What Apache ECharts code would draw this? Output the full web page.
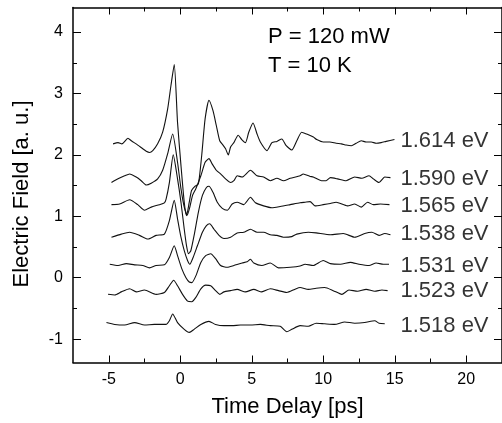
<!DOCTYPE html>
<html>
<head>
<meta charset="utf-8">
<script src="https://cdn.jsdelivr.net/npm/echarts@6/dist/echarts.min.js"></script>
<style>
html,body{margin:0;padding:0;background:#fff;}
#chart{width:502px;height:423px;}
</style>
</head>
<body>
<div id="chart"></div>
<script>
// Tick labels
const xTicks = [-5, 0, 5, 10, 15, 20];
const xMinorTicks = [-2.5, 2.5, 7.5, 12.5, 17.5];
const yTicks = [-1, 0, 1, 2, 3, 4];
const yMinorTicks = [-0.5, 0.5, 1.5, 2.5, 3.5];

// Trace names (photon energy)
const traceNames = ['1.614 eV', '1.590 eV', '1.565 eV', '1.538 eV', '1.531 eV', '1.523 eV', '1.518 eV'];
// Level where each label sits
const labelLevels = [2.23, 1.61, 1.17, 0.72, 0.20, -0.21, -0.78];

// Traces: [time delay (ps), electric field (a.u.)]
const e1614 = [[-4.70,2.18],[-4.35,2.20],[-4.08,2.18],[-3.66,2.27],[-3.42,2.23],[-2.97,2.16],[-2.62,2.10],[-2.38,2.06],[-2.15,2.04],[-1.92,2.07],[-1.58,2.18],[-1.23,2.37],[-0.88,2.75],[-0.65,3.13],[-0.42,3.47],[-0.19,2.53],[0.05,1.83],[0.28,1.23],[0.44,1.01],[0.63,1.23],[0.79,1.42],[1.04,1.49],[1.27,1.53],[1.50,1.99],[1.74,2.59],[2.01,2.89],[2.29,2.72],[2.52,2.48],[2.76,2.23],[2.99,2.16],[3.17,2.10],[3.36,2.00],[3.52,2.13],[3.75,2.20],[4.05,2.32],[4.30,2.25],[4.56,2.20],[4.79,2.37],[5.09,2.52],[5.37,2.34],[5.60,2.21],[6.06,2.07],[6.41,2.20],[6.76,2.22],[7.10,2.26],[7.41,2.15],[7.80,2.08],[8.15,2.23],[8.49,2.37],[8.84,2.34],[9.31,2.29],[9.54,2.25],[10.0,2.21],[10.46,2.21],[10.9,2.19],[11.27,2.18],[11.6,2.16],[11.97,2.15],[12.3,2.19],[12.66,2.23],[13.0,2.21],[13.36,2.21],[13.7,2.19],[14.05,2.20],[14.4,2.22],[14.98,2.25]];
const e1590 = [[-4.81,1.55],[-4.35,1.61],[-3.89,1.66],[-3.54,1.69],[-3.08,1.64],[-2.73,1.58],[-2.38,1.51],[-2.03,1.54],[-1.58,1.61],[-1.23,1.75],[-0.88,2.02],[-0.53,2.34],[-0.19,1.88],[0.05,1.45],[0.28,1.15],[0.49,1.02],[0.67,1.15],[0.86,1.34],[1.09,1.45],[1.44,1.66],[1.74,1.88],[2.01,1.94],[2.24,1.85],[2.52,1.75],[2.82,1.69],[3.17,1.61],[3.52,1.55],[3.75,1.58],[3.98,1.66],[4.33,1.64],[4.91,1.75],[5.37,1.66],[5.83,1.64],[6.30,1.58],[6.76,1.62],[7.22,1.58],[7.69,1.62],[8.38,1.66],[8.60,1.69],[9.08,1.65],[9.30,1.64],[9.88,1.58],[10.2,1.58],[10.5,1.63],[11.0,1.61],[11.6,1.58],[12.2,1.64],[12.7,1.62],[13.2,1.66],[13.5,1.61],[13.9,1.55],[14.3,1.64],[14.7,1.63]];
const e1565 = [[-4.81,1.19],[-4.24,1.20],[-3.54,1.27],[-2.97,1.19],[-2.50,1.10],[-2.03,1.15],[-1.46,1.19],[-1.11,1.22],[-0.99,1.28],[-0.76,1.55],[-0.49,2.00],[-0.19,1.61],[0.05,1.23],[0.28,0.79],[0.44,0.52],[0.58,0.39],[0.74,0.44],[0.97,0.69],[1.27,1.07],[1.55,1.34],[1.83,1.47],[2.01,1.49],[2.29,1.39],[2.59,1.23],[2.94,1.13],[3.29,1.10],[3.63,1.20],[3.98,1.23],[4.44,1.19],[4.91,1.31],[5.26,1.22],[5.83,1.17],[6.41,1.14],[6.99,1.16],[7.69,1.19],[8.38,1.22],[8.73,1.23],[9.08,1.24],[9.42,1.17],[10.0,1.19],[10.5,1.21],[10.9,1.23],[11.7,1.17],[12.2,1.20],[12.66,1.15],[13.1,1.23],[13.5,1.19],[14.0,1.20],[14.63,1.19]];
const e1538 = [[-4.81,0.66],[-4.12,0.71],[-3.54,0.74],[-2.85,0.69],[-2.27,0.63],[-1.69,0.69],[-1.11,0.71],[-0.76,0.93],[-0.42,1.26],[-0.19,0.96],[0.05,0.66],[0.28,0.44],[0.51,0.28],[0.67,0.22],[0.90,0.33],[1.20,0.52],[1.55,0.74],[1.83,0.85],[2.06,0.88],[2.36,0.79],[2.71,0.69],[3.06,0.64],[3.52,0.66],[3.98,0.73],[4.44,0.74],[4.91,0.79],[5.37,0.74],[5.83,0.74],[6.30,0.70],[6.76,0.69],[7.22,0.66],[7.80,0.67],[8.15,0.71],[8.96,0.74],[9.5,0.73],[10.5,0.70],[11.4,0.72],[12.2,0.66],[12.9,0.72],[13.4,0.74],[13.9,0.69],[14.3,0.72],[14.7,0.70]];
const e1531 = [[-4.93,0.22],[-4.35,0.20],[-3.77,0.23],[-3.19,0.21],[-2.62,0.20],[-2.15,0.16],[-1.69,0.20],[-1.11,0.21],[-0.76,0.33],[-0.42,0.52],[-0.19,0.36],[0.12,0.14],[0.40,0.00],[0.63,-0.07],[0.81,-0.08],[1.09,0.03],[1.44,0.25],[1.78,0.36],[2.13,0.39],[2.47,0.31],[2.82,0.20],[3.29,0.17],[3.75,0.20],[4.33,0.24],[4.68,0.26],[4.91,0.30],[5.14,0.24],[5.7,0.20],[6.3,0.24],[6.87,0.16],[7.69,0.17],[8.38,0.19],[8.73,0.22],[9.3,0.20],[10.0,0.28],[10.5,0.23],[11.2,0.22],[11.9,0.25],[12.5,0.22],[13.2,0.20],[13.7,0.24],[14.2,0.22],[14.6,0.22]];
const e1523 = [[-5.05,-0.27],[-4.58,-0.28],[-4.12,-0.23],[-3.54,-0.18],[-3.08,-0.23],[-2.5,-0.20],[-1.69,-0.27],[-1.11,-0.24],[-0.76,-0.13],[-0.46,-0.04],[-0.19,-0.13],[0.16,-0.27],[0.51,-0.38],[0.81,-0.39],[1.09,-0.32],[1.44,-0.18],[1.78,-0.12],[2.13,-0.13],[2.47,-0.21],[2.76,-0.27],[3.06,-0.23],[3.52,-0.21],[3.98,-0.19],[4.56,-0.23],[5.14,-0.19],[5.7,-0.23],[6.3,-0.18],[6.87,-0.21],[7.45,-0.24],[8.0,-0.19],[8.38,-0.16],[8.96,-0.19],[9.5,-0.17],[10.1,-0.16],[10.7,-0.21],[11.3,-0.27],[11.8,-0.20],[12.4,-0.22],[13.0,-0.19],[13.6,-0.22],[14.1,-0.20],[14.5,-0.21]];
const e1518 = [[-5.16,-0.73],[-4.58,-0.76],[-3.89,-0.77],[-3.19,-0.73],[-2.5,-0.77],[-1.81,-0.76],[-1.0,-0.76],[-0.76,-0.70],[-0.53,-0.59],[-0.19,-0.73],[0.28,-0.84],[0.63,-0.89],[0.97,-0.84],[1.44,-0.76],[2.01,-0.71],[2.47,-0.76],[3.06,-0.78],[3.63,-0.78],[4.21,-0.77],[4.91,-0.77],[5.6,-0.76],[6.3,-0.78],[6.99,-0.79],[7.45,-0.88],[7.8,-0.84],[8.38,-0.78],[8.96,-0.79],[9.5,-0.74],[10.1,-0.75],[10.8,-0.76],[11.5,-0.72],[12.2,-0.74],[12.9,-0.73],[13.6,-0.70],[13.9,-0.74],[14.3,-0.75]];

const traces = [e1614, e1590, e1565, e1538, e1531, e1523, e1518];

const FONT = '"Liberation Sans", Arial, Helvetica, sans-serif';
const INK = '#000';
const chart = echarts.init(document.getElementById('chart'), null, {renderer: 'canvas'});

const frameLine = {show: true, onZero: false, lineStyle: {color: INK, width: 1.5}};
const noLine = {show: false, onZero: false};
function xAx(pos, ticks, len, withLabel, showLine) {
  return {
    type: 'value', position: pos, min: -7.5, max: 22.5, gridIndex: 0,
    axisLine: showLine ? frameLine : noLine,
    axisTick: {show: true, inside: true, length: len, customValues: ticks, lineStyle: {color: INK, width: 1}},
    axisLabel: withLabel ? {show: true, customValues: ticks, fontSize: 16, color: INK, fontFamily: FONT, margin: 9} : {show: false},
    splitLine: {show: false},
    name: withLabel ? 'Time Delay [ps]' : '',
    nameLocation: 'middle', nameGap: 33,
    nameTextStyle: {fontSize: 22, color: INK, fontFamily: FONT}
  };
}
function yAx(pos, ticks, len, withLabel, showLine) {
  return {
    type: 'value', position: pos, min: -1.38, max: 4.4, gridIndex: 0,
    axisLine: showLine ? frameLine : noLine,
    axisTick: {show: true, inside: true, length: len, customValues: ticks, lineStyle: {color: INK, width: 1}},
    axisLabel: withLabel ? {show: true, customValues: ticks, fontSize: 16, color: INK, fontFamily: FONT, margin: 10} : {show: false},
    splitLine: {show: false}
  };
}

const series = traces.map((d, i) => ({
  name: traceNames[i], type: 'line', data: d, xAxisIndex: 0, yAxisIndex: 0,
  showSymbol: false, smooth: 0.2, lineStyle: {color: '#111', width: 1.1}, silent: true
}));
series.push({
  name: 'labels', type: 'scatter', xAxisIndex: 0, yAxisIndex: 0, symbolSize: 0,
  data: traceNames.map((n, i) => ({name: n, value: [15.4, labelLevels[i]]})),
  label: {show: true, position: 'right', distance: 0, formatter: p => p.name, fontSize: 22, color: INK, fontFamily: FONT, align: 'left', verticalAlign: 'middle'},
  silent: true
});

chart.setOption({
  animation: false,
  backgroundColor: '#fff',
  grid: {left: 73, top: 7.5, width: 435, height: 355, containLabel: false},
  xAxis: [
    xAx('bottom', xTicks, 7, true, true),
    xAx('bottom', xMinorTicks, 4, false, false),
    xAx('top', xTicks, 7, false, true),
    xAx('top', xMinorTicks, 4, false, false)
  ],
  yAxis: [
    yAx('left', yTicks, 8, true, true),
    yAx('left', yMinorTicks, 4, false, false),
    yAx('right', yTicks, 8, false, true),
    yAx('right', yMinorTicks, 4, false, false)
  ],
  graphic: [
    {type: 'text', left: 268, top: 26, style: {text: 'P = 120 mW', font: '22px ' + FONT, fill: INK}},
    {type: 'text', left: 268, top: 55, style: {text: 'T = 10 K', font: '22px ' + FONT, fill: INK}},
    {type: 'text', x: 22, y: 194, rotation: Math.PI / 2,
     style: {text: 'Electric Field [a. u.]', font: '22px ' + FONT, fill: INK, align: 'center', verticalAlign: 'middle'}}
  ],
  series: series
});
</script>
</body>
</html>
